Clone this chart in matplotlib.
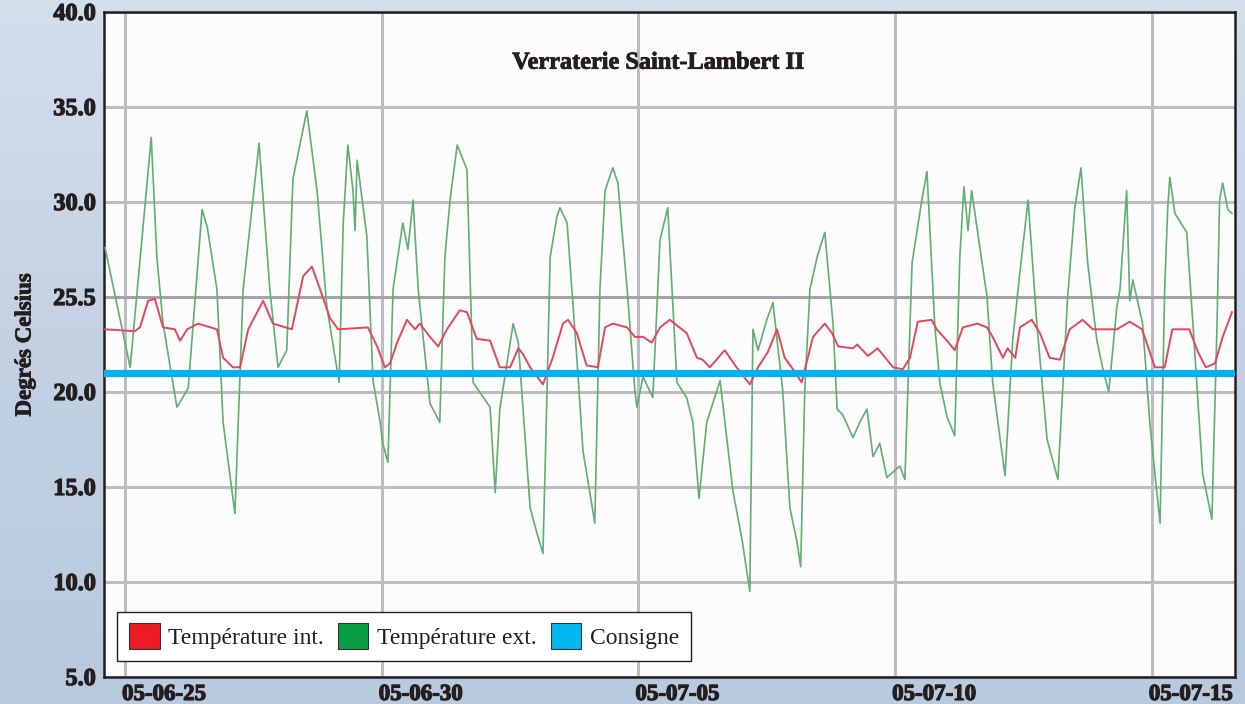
import numpy as np
import pandas as pd
import matplotlib
matplotlib.use("Agg")
import matplotlib.pyplot as plt
import matplotlib.dates as mdates
import matplotlib.transforms as mtransforms
import matplotlib.patheffects as pe
from matplotlib.patches import Patch
from matplotlib.colors import LinearSegmentedColormap

# origine des jours : 2005-06-25 00:00
debut = pd.Timestamp("2005-06-25")

# température extérieure (jours depuis le début, °C)
jours_ext = [-0.39, 0.10, 0.51, 0.62, 0.74, 1.01, 1.23, 1.50, 1.60, 1.79,
             1.91, 2.14, 2.30, 2.61, 2.82, 2.98, 3.15, 3.27, 3.54, 3.74,
             3.93, 4.17, 4.25, 4.34, 4.44, 4.48, 4.52, 4.62, 4.71, 4.83,
             4.97, 5.02, 5.12, 5.22, 5.41, 5.51, 5.61, 5.71, 5.94, 6.13,
             6.23, 6.33, 6.47, 6.66, 6.78, 7.11, 7.21, 7.30, 7.56, 7.66,
             7.89, 8.02, 8.14, 8.22, 8.28, 8.41, 8.47, 8.61, 8.80, 8.92,
             9.15, 9.25, 9.35, 9.50, 9.60, 9.78, 9.93, 9.97, 10.09, 10.28,
             10.42, 10.57, 10.75, 10.94, 11.06, 11.18, 11.33, 11.59, 11.84, 12.02,
             12.17, 12.23, 12.33, 12.50, 12.62, 12.81, 12.95, 13.09, 13.16, 13.24,
             13.34, 13.48, 13.63, 13.79, 13.87, 13.98, 14.18, 14.31, 14.45, 14.57,
             14.70, 14.84, 15.09, 15.19, 15.33, 15.52, 15.62, 15.77, 15.87, 16.01,
             16.16, 16.26, 16.34, 16.42, 16.49, 16.79, 16.90, 17.14, 17.29, 17.43,
             17.59, 17.76, 17.96, 18.17, 18.36, 18.50, 18.62, 18.75, 18.93, 19.04,
             19.16, 19.32, 19.38, 19.51, 19.57, 19.63, 19.82, 19.96, 20.06, 20.16,
             20.25, 20.31, 20.35, 20.45, 20.68, 20.80, 20.99, 21.17, 21.27, 21.32,
             21.38, 21.48, 21.56]
temp_ext = [27.6, 21.3, 33.4, 27.1, 23.6, 19.2, 20.2, 29.6, 28.7, 25.4,
            18.4, 13.6, 25.4, 33.1, 25.4, 21.3, 22.2, 31.2, 34.8, 30.6,
            24.5, 20.5, 28.9, 33.0, 30.6, 28.5, 32.2, 30.1, 28.2, 20.6,
            18.4, 17.3, 16.3, 25.4, 28.9, 27.5, 30.1, 25.4, 19.4, 18.4,
            27.1, 30.1, 33.0, 31.7, 20.5, 19.2, 14.7, 19.1, 23.6, 22.6,
            13.9, 12.6, 11.5, 20.1, 27.1, 29.2, 29.7, 28.9, 21.8, 16.9,
            13.1, 25.4, 30.6, 31.8, 31.0, 25.4, 20.1, 19.2, 20.8, 19.7,
            28.0, 29.7, 20.5, 19.7, 18.4, 14.4, 18.4, 20.6, 14.8, 12.2,
            9.5, 23.3, 22.2, 23.8, 24.7, 20.1, 13.9, 12.1, 10.8, 20.1,
            25.4, 27.1, 28.4, 23.6, 19.1, 18.8, 17.6, 18.4, 19.1, 16.6,
            17.3, 15.5, 16.1, 15.4, 26.8, 30.1, 31.6, 23.6, 20.5, 18.7,
            17.7, 27.1, 30.8, 28.5, 30.6, 25.0, 20.5, 15.6, 22.7, 26.3,
            30.1, 23.6, 17.5, 15.4, 25.0, 29.7, 31.8, 26.8, 22.7, 21.3,
            20.0, 24.5, 25.4, 30.6, 24.8, 25.9, 23.6, 18.4, 15.7, 13.1,
            25.4, 29.7, 31.3, 29.4, 28.4, 23.6, 15.7, 13.3, 23.6, 30.1,
            31.0, 29.6, 29.4]

# température intérieure
jours_int = [-0.39, 0.19, 0.29, 0.45, 0.58, 0.74, 0.97, 1.07, 1.21, 1.42,
             1.79, 1.91, 2.10, 2.24, 2.40, 2.69, 2.88, 3.25, 3.47, 3.64,
             3.80, 3.99, 4.15, 4.73, 4.91, 5.06, 5.16, 5.30, 5.49, 5.65,
             5.74, 5.94, 6.10, 6.27, 6.52, 6.66, 6.85, 7.11, 7.30, 7.50,
             7.66, 7.75, 7.89, 8.14, 8.33, 8.53, 8.63, 8.80, 8.99, 9.21,
             9.35, 9.50, 9.78, 9.93, 10.09, 10.26, 10.42, 10.61, 10.94, 11.14,
             11.25, 11.39, 11.52, 11.68, 11.91, 12.17, 12.33, 12.52, 12.70, 12.85,
             13.01, 13.18, 13.40, 13.63, 13.77, 13.89, 14.18, 14.26, 14.47, 14.66,
             14.84, 14.96, 15.15, 15.29, 15.44, 15.71, 15.81, 16.01, 16.16, 16.32,
             16.60, 16.79, 16.90, 17.10, 17.19, 17.34, 17.43, 17.66, 17.82, 18.01,
             18.21, 18.40, 18.65, 18.85, 19.32, 19.57, 19.81, 19.96, 20.06, 20.25,
             20.40, 20.73, 20.90, 21.05, 21.23, 21.38, 21.56]
temp_int = [23.3, 23.2, 23.4, 24.8, 24.9, 23.4, 23.3, 22.7, 23.3, 23.6,
            23.3, 21.8, 21.3, 21.3, 23.3, 24.8, 23.6, 23.3, 26.1, 26.6,
            25.4, 23.9, 23.3, 23.4, 22.4, 21.3, 21.5, 22.6, 23.8, 23.3,
            23.6, 22.9, 22.4, 23.3, 24.3, 24.2, 22.8, 22.7, 21.3, 21.3,
            22.3, 22.0, 21.3, 20.4, 21.8, 23.6, 23.8, 23.1, 21.4, 21.3,
            23.4, 23.6, 23.4, 22.9, 22.9, 22.6, 23.4, 23.8, 23.1, 21.8,
            21.7, 21.3, 21.7, 22.2, 21.3, 20.4, 21.3, 22.1, 23.3, 21.8,
            21.2, 20.5, 22.9, 23.6, 23.1, 22.4, 22.3, 22.5, 21.9, 22.3,
            21.7, 21.3, 21.2, 21.8, 23.7, 23.8, 23.3, 22.7, 22.2, 23.4,
            23.6, 23.4, 22.9, 21.8, 22.3, 21.8, 23.4, 23.8, 23.1, 21.8,
            21.7, 23.3, 23.8, 23.3, 23.3, 23.7, 23.3, 22.1, 21.3, 21.3,
            23.3, 23.3, 22.1, 21.3, 21.5, 22.9, 24.2]

consigne = 21.0

titre = "Verraterie Saint-Lambert II"
libelle_y = "Degrés Celsius"
noms_series = ["Température int.", "Température ext.", "Consigne"]
valeurs_y = [5, 10, 15, 20, 25, 30, 35, 40]
etiquettes_y = ["5.0", "10.0", "15.0", "20.0", "25.5", "30.0", "35.0", "40.0"]
dates_x = ["2005-06-25", "2005-06-30", "2005-07-05", "2005-07-10", "2005-07-15"]

t_ext = debut + pd.to_timedelta(jours_ext, unit="D")
t_int = debut + pd.to_timedelta(jours_int, unit="D")

encre = "#231f20"
gras = {"family": ["Liberation Serif", "DejaVu Serif"], "weight": "bold"}
epais = [pe.withStroke(linewidth=0.9, foreground=encre)]

fig = plt.figure(figsize=(12.45, 7.04), dpi=100)

# fond bleuté
fond = fig.add_axes([0, 0, 1, 1], zorder=-10)
grad = np.linspace(0, 1, 256).reshape(-1, 1)
cmap_fond = LinearSegmentedColormap.from_list("fond", ["#d4dfec", "#c3d1e3", "#b9c9de"])
fond.imshow(grad, aspect="auto", cmap=cmap_fond, extent=[0, 1, 0, 1])
fond.axis("off")

ax = fig.add_axes([104 / 1245, 27 / 704, 1131 / 1245, 665 / 704])
ax.set_facecolor("#fbfcfb")

ax.plot(t_ext, temp_ext, color="#62ad74", lw=1.2, zorder=3)
ax.plot(t_int, temp_int, color="#e2475f", lw=1.4, zorder=4)
ax.axhline(consigne, color="#00b3ea", lw=5.2, zorder=5)

ax.set_ylim(5, 40)
ax.set_xlim(debut - pd.Timedelta(days=0.41), debut + pd.Timedelta(days=21.62))

ax.set_yticks(valeurs_y)
ax.set_yticklabels(etiquettes_y, fontsize=17.5, color=encre, path_effects=epais, **gras)
ax.set_xticks(pd.to_datetime(dates_x))
ax.xaxis.set_major_formatter(mdates.DateFormatter("%y-%m-%d"))
ax.tick_params(axis="y", length=0, pad=6)
ax.tick_params(axis="x", length=0, pad=5)
decal = mtransforms.ScaledTranslation(-3 / 100, 0, fig.dpi_scale_trans)
for lab in ax.get_xticklabels():
    lab.set_fontsize(16.5)
    lab.set_fontfamily(gras["family"])
    lab.set_fontweight("bold")
    lab.set_color(encre)
    lab.set_path_effects(epais)
    lab.set_horizontalalignment("left")
    lab.set_transform(lab.get_transform() + decal)

ax.grid(True, color="#bdbdc1", lw=2.2, zorder=1)
ax.set_axisbelow(True)
for v, gl in zip(valeurs_y, ax.yaxis.get_gridlines()):
    if v == 25:
        gl.set_color("#a3a3a8")

for sp in ax.spines.values():
    sp.set_color(encre)
    sp.set_linewidth(1.8)

ax.text(0.49, 0.923, titre, transform=ax.transAxes, ha="center", va="center",
        fontsize=17.5, color=encre, path_effects=[pe.withStroke(linewidth=0.6, foreground=encre)],
        **gras)
fig.text(25 / 1245, 1 - 345 / 704, libelle_y, rotation=90, ha="center", va="center",
         fontsize=16.5, color=encre, path_effects=[pe.withStroke(linewidth=0.6, foreground=encre)],
         **gras)

poignees = [Patch(facecolor="#ee1c25", edgecolor="#333333", lw=0.8),
            Patch(facecolor="#0a9e44", edgecolor="#333333", lw=0.8),
            Patch(facecolor="#00b9f1", edgecolor="#333333", lw=0.8)]
leg = ax.legend(poignees, noms_series, loc="lower left", bbox_to_anchor=(0.0115, 0.024),
                borderaxespad=0, ncol=3, frameon=True, fancybox=False, framealpha=1,
                edgecolor=encre, handlelength=1.3, handleheight=1.3,
                handletextpad=0.36, columnspacing=0.6, borderpad=0.5,
                prop={"family": ["Liberation Serif", "DejaVu Serif"], "size": 17})
leg.get_frame().set_linewidth(1.0)
for t in leg.get_texts():
    t.set_color(encre)

fig.savefig("out.png", dpi=100)
